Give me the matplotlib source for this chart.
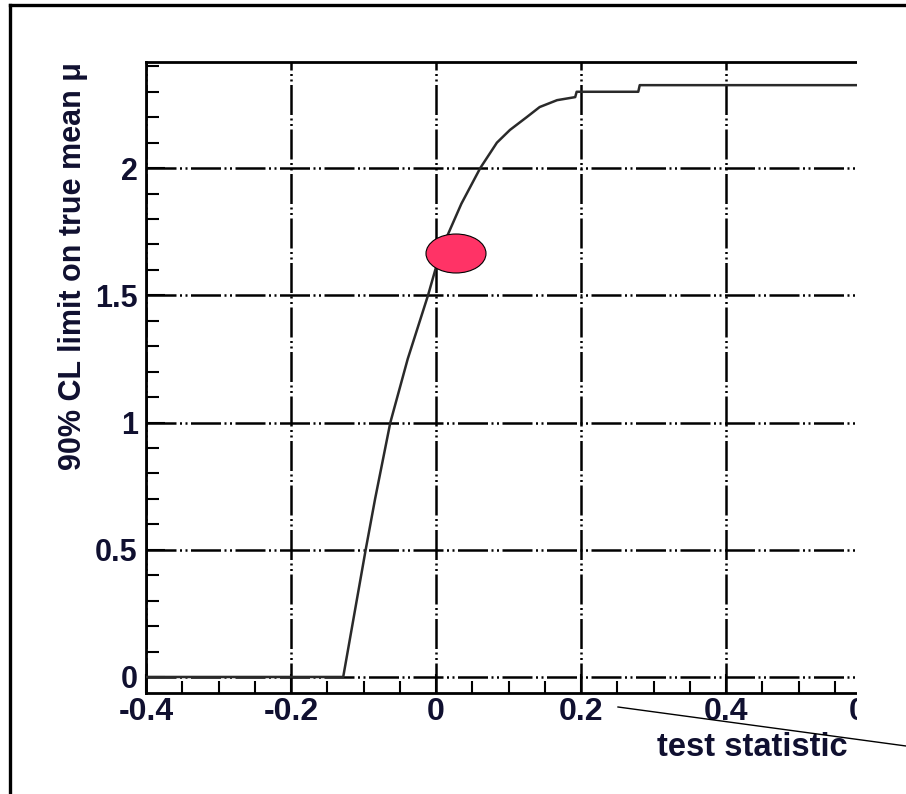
import matplotlib
matplotlib.use("Agg")
import matplotlib.pyplot as plt
from matplotlib.patches import Ellipse, Rectangle
from matplotlib.lines import Line2D
from matplotlib.ticker import MultipleLocator

# -------- data --------
# test statistic (x) and 90% CL limit on the true mean (y)
stat = [-0.40, -0.128, -0.097, -0.084, -0.063, -0.039, -0.011, 0.000, 0.015,
        0.035, 0.061, 0.084, 0.102, 0.125, 0.143, 0.167, 0.192, 0.194,
        0.279, 0.281, 0.80]
limit = [0.0, 0.0, 0.50, 0.70, 1.00, 1.25, 1.50, 1.61, 1.73,
         1.86, 2.00, 2.10, 2.15, 2.20, 2.24, 2.267, 2.279, 2.30,
         2.30, 2.326, 2.326]

x_ticks = [-0.4, -0.2, 0.0, 0.2, 0.4, 0.6]
x_ticklabels = ["-0.4", "-0.2", "0", "0.2", "0.4", "0.6"]
y_ticks = [0, 0.5, 1, 1.5, 2]
y_ticklabels = ["0", "0.5", "1", "1.5", "2"]

W, H = 906, 794
def fx(px):
    return px / W
def fy(py):
    return 1 - py / H

txt_col = "#101030"
grid_ls = (0, (12, 1.4, 0.8, 1.4, 0.8, 1.4))

fig = plt.figure(figsize=(W / 100, H / 100), dpi=100)

# axes runs past the right edge of the crop
ax = fig.add_axes([fx(146), fy(693), (1016 - 146) / W, (693 - 62) / H])
ax.set_xlim(-0.4, 0.8)
ax.set_ylim(-0.063, 2.417)

ax.plot(stat, limit, color="#2a2a2a", lw=1.8, zorder=3)

ax.set_xticks(x_ticks)
ax.set_xticklabels(x_ticklabels)
ax.set_yticks(y_ticks)
ax.set_yticklabels(y_ticklabels)
ax.xaxis.set_minor_locator(MultipleLocator(0.05))
ax.yaxis.set_minor_locator(MultipleLocator(0.1))
ax.tick_params(which="both", direction="in", color="black", width=1.5)
ax.tick_params(which="major", length=14)
ax.tick_params(which="minor", length=9)
ax.tick_params(axis="x", pad=3)
ax.tick_params(axis="y", pad=6)

for lab in ax.get_xticklabels():
    lab.set_fontfamily(["DejaVu Sans Condensed", "Liberation Sans"])
    lab.set_fontweight("bold")
    lab.set_fontsize(23)
    lab.set_color(txt_col)
for lab in ax.get_yticklabels():
    lab.set_fontfamily("Liberation Sans")
    lab.set_fontweight("bold")
    lab.set_fontsize(22)
    lab.set_color(txt_col)

ax.grid(True, which="major", color="black", lw=1.8, linestyle=grid_ls)
ax.set_axisbelow(True)

for side in ["left", "bottom", "top"]:
    ax.spines[side].set_linewidth(2)
ax.spines["right"].set_visible(False)

# axis titles
fig.text(fx(848), fy(748), "test statistic", ha="right", va="center",
         fontsize=23.5, fontweight="bold", family="Liberation Sans", color=txt_col)
fig.text(fx(73), fy(62), "90% CL limit on true mean \u03bc", rotation=90,
         ha="center", va="top", fontsize=22, fontweight="bold",
         family="Liberation Sans", color=txt_col)

# crop edge on the right
fig.add_artist(Rectangle((fx(857), 0), 1 - fx(857), 1, transform=fig.transFigure,
                         fc="white", ec="none", zorder=5))

# outer frame of the slide
fig.add_artist(Line2D([fx(10), fx(10)], [fy(5), 0], color="black", lw=2.4, zorder=6))
fig.add_artist(Line2D([fx(10), 1], [fy(5), fy(5)], color="black", lw=2.4, zorder=6))

# annotations drawn on top
fig.add_artist(Ellipse((fx(456), fy(253.5)), 60 / W, 39 / H, transform=fig.transFigure,
                       fc="#FF3366", ec="black", lw=0.8, zorder=7))
fig.add_artist(Line2D([fx(618), 1], [fy(707), fy(746)], color="black", lw=1.0, zorder=7))

fig.savefig("out.png", dpi=100)
